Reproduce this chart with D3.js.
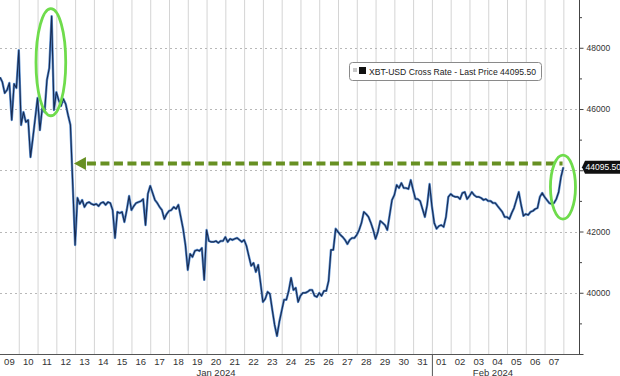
<!DOCTYPE html>
<html><head><meta charset="utf-8">
<script src="https://cdn.jsdelivr.net/npm/d3@7"></script>
<style>body{margin:0;background:#fff}svg{display:block}</style>
</head><body>
<svg id="c" width="620" height="376"></svg>
<script>
// ---- data ----
const startTime = "2024-01-09T00:00:00Z";
const stepHours = 3;
const prices = [
47040,46880,46520,46620,46850,45640,46820,46690,47920,45480,
45900,45575,45640,44430,45050,45700,46360,45310,46030,45900,
46950,47340,49030,45970,46550,46290,46100,46330,46160,45800,
45480,43520,41560,43100,42900,43030,42800,42930,42960,42900,
42870,42900,42830,42930,42960,42870,42960,42930,42700,41790,
42640,42600,42640,42310,42700,43160,42700,42830,42930,42960,
42990,43060,42210,43230,43490,43260,43030,42930,42800,42700,
42410,42570,42670,42700,42800,42740,42870,42480,42090,41560,
40745,41270,41170,41365,41400,41365,41460,40420,42050,41690,
41660,41660,41690,41630,41690,41690,41820,41660,41760,41725,
41760,41790,41725,41660,41725,41530,41200,40880,40975,40680,
40910,40320,39700,39800,40030,39960,39440,38950,38590,39050,
39410,39770,39770,40060,40485,40090,40160,39700,39900,39995,
39995,40030,40090,40090,39900,39865,39995,39900,40060,40060,
40390,41400,41400,42090,41990,41890,41820,41725,41590,41725,
41790,41790,41890,42050,42280,42640,42570,42475,42280,42050,
41760,41990,42345,42280,42210,42050,42540,43030,43190,43520,
43420,43585,43420,43420,43390,43680,43360,43060,43060,42990,
42735,42475,42870,43550,42830,42280,42090,42180,42210,42150,
42475,43130,43225,43160,43130,43130,43060,43260,43290,43060,
43160,43290,43190,43130,43130,43095,43030,43060,42995,42995,
42930,42930,42830,42735,42640,42475,42475,42410,42605,42770,
43030,43290,42870,42510,42570,42540,42640,42670,42735,42770,
43130,43260,43130,43030,42930,42900,42930,43060,43290,43780,
44095.5
];
const lastPrice = 44095.50;
const seriesName = "XBT-USD Cross Rate - Last Price";
const xDomain = ["2024-01-09T00:00:00Z", "2024-02-08T20:00:00Z"];
const yDomain = [38000, 49560];
const gridValues = [40000, 42000, 44000, 46000, 48000];
const majorTicks = [38000, 40000, 42000, 44000, 46000, 48000];
const labelTicks = [40000, 42000, 46000, 48000];
const minorTicks = [39000, 41000, 43000, 45000, 47000, 49000];
const monthLabels = [
  {label: "Jan 2024", at: "2024-01-20T12:00:00Z"},
  {label: "Feb 2024", at: "2024-02-04T06:00:00Z"}
];
const monthStart = "2024-02-01T00:00:00Z";
const arrowLevel = 44220;
const arrowFrom = "2024-02-07T23:00:00Z";
const arrowTo = "2024-01-12T22:30:00Z";
const circles = [
  {t: "2024-01-11T17:00:00Z", v: 47530, hours: 38, dv: 3500},
  {t: "2024-02-07T23:30:00Z", v: 43450, hours: 32, dv: 2090}
];

// ---- chart ----
const W = 620, H = 376;
const plotR = 579, plotB = 354;
const svg = d3.select("#c");
const x = d3.scaleUtc().domain(xDomain.map(d => new Date(d))).range([0, plotR]);
const y = d3.scaleLinear().domain(yDomain).range([plotB, 0]);
const t0 = new Date(startTime);
const data = prices.map((v, i) => ({t: d3.utcHour.offset(t0, i * stepHours), v}));

// vertical day grid
const days = d3.utcDay.range(new Date("2024-01-10T00:00:00Z"), new Date("2024-02-09T00:00:00Z"));
svg.append("g").selectAll("line").data(days).join("line")
  .attr("x1", d => x(d) + 0.5).attr("x2", d => x(d) + 0.5)
  .attr("y1", 0).attr("y2", plotB)
  .attr("stroke", "#d4d4d4").attr("stroke-width", 1);

// horizontal dotted grid
svg.append("g").selectAll("line").data(gridValues).join("line")
  .attr("x1", 0).attr("x2", plotR)
  .attr("y1", d => Math.round(y(d)) + 0.5).attr("y2", d => Math.round(y(d)) + 0.5)
  .attr("stroke", "#b8b8b8").attr("stroke-width", 1).attr("stroke-dasharray", "2,3");

// series
const line = d3.line().x(d => x(d.t)).y(d => y(d.v));
svg.append("path").datum(data).attr("d", line)
  .attr("fill", "none").attr("stroke", "#5d8fcf").attr("stroke-width", 2.4).attr("stroke-linejoin", "round");
svg.append("path").datum(data).attr("d", line)
  .attr("fill", "none").attr("stroke", "#172b52").attr("stroke-width", 1.1).attr("stroke-linejoin", "round");

// dashed arrow annotation
const ay = y(arrowLevel);
const ax0 = x(new Date(arrowTo));
svg.append("line")
  .attr("x1", ax0 + 13).attr("x2", x(new Date(arrowFrom)))
  .attr("y1", ay).attr("y2", ay)
  .attr("stroke", "#679022").attr("stroke-width", 4).attr("stroke-dasharray", "9,4.5");
svg.append("path")
  .attr("d", `M${ax0},${ay} L${ax0 + 12},${ay - 6.5} L${ax0 + 12},${ay + 6.5} Z`)
  .attr("fill", "#679022");

// green ellipses
svg.append("g").selectAll("ellipse").data(circles).join("ellipse")
  .attr("cx", d => x(new Date(d.t))).attr("cy", d => y(d.v))
  .attr("rx", d => x(d3.utcHour.offset(new Date(d.t), d.hours / 2)) - x(new Date(d.t)))
  .attr("ry", d => y(d.v - d.dv / 2) - y(d.v))
  .attr("fill", "none").attr("stroke", "#6fdc4c").attr("stroke-width", 2.8);

// bottom axis line
svg.append("line").attr("x1", 0).attr("x2", plotR + 0.5).attr("y1", plotB + 0.5).attr("y2", plotB + 0.5)
  .attr("stroke", "#555").attr("stroke-width", 1);
// month separator
svg.append("line").attr("x1", x(new Date(monthStart)) + 0.5).attr("x2", x(new Date(monthStart)) + 0.5)
  .attr("y1", plotB).attr("y2", H).attr("stroke", "#555").attr("stroke-width", 1);

// day labels
const labelDays = d3.utcDay.range(new Date("2024-01-09T00:00:00Z"), new Date("2024-02-08T00:00:00Z"));
svg.append("g").selectAll("text").data(labelDays).join("text")
  .attr("x", d => x(d3.utcHour.offset(d, 12))).attr("y", 365)
  .attr("text-anchor", "middle")
  .attr("font-family", "Liberation Sans, Arial, sans-serif").attr("font-size", 9.5).attr("fill", "#333")
  .text(d3.utcFormat("%d"));
svg.append("g").selectAll("text").data(monthLabels).join("text")
  .attr("x", d => x(new Date(d.at))).attr("y", 375.5)
  .attr("text-anchor", "middle")
  .attr("font-family", "Liberation Sans, Arial, sans-serif").attr("font-size", 9.5).attr("fill", "#333")
  .text(d => d.label);

// right axis
const axR = svg.append("g").attr("transform", `translate(${plotR + 0.5},0)`);
axR.call(d3.axisRight(y).tickValues(majorTicks).tickSize(4).tickFormat(d => labelTicks.includes(d) ? d : ""));
const axMinor = svg.append("g").attr("transform", `translate(${plotR + 0.5},0)`);
axMinor.call(d3.axisRight(y).tickValues(minorTicks).tickSize(2.5).tickFormat(""));
[axR, axMinor].forEach(g => {
  g.select(".domain").attr("stroke", "#444").attr("d", `M0,0V${plotB + 0.5}`);
  g.selectAll(".tick line").attr("stroke", "#444");
});
axR.selectAll(".tick text").attr("x", 7)
  .attr("font-family", "Liberation Sans, Arial, sans-serif").attr("font-size", 8.5).attr("fill", "#333");

// last price tag
const ly = y(lastPrice);
svg.append("path")
  .attr("d", `M${plotR + 3},${ly} L${plotR + 6},${ly - 6.5} H${W + 5} V${ly + 6.5} H${plotR + 6} Z`)
  .attr("fill", "#111");
svg.append("text").attr("x", plotR + 6.5).attr("y", ly).attr("dy", "0.35em")
  .attr("font-family", "Liberation Sans, Arial, sans-serif").attr("font-size", 8.5).attr("fill", "#fff")
  .text(d3.format(".2f")(lastPrice));

// legend
const lg = svg.append("g");
lg.append("rect").attr("x", 349.5).attr("y", 62.5).attr("width", 192).attr("height", 18).attr("rx", 3)
  .attr("fill", "#fff").attr("stroke", "#8a8a8a").attr("stroke-width", 1);
lg.append("rect").attr("x", 353).attr("y", 68).attr("width", 4).attr("height", 4).attr("fill", "#c8c8c8");
lg.append("rect").attr("x", 359).attr("y", 67).attr("width", 7).attr("height", 7).attr("fill", "#111");
lg.append("text").attr("x", 369).attr("y", 74.5)
  .attr("font-family", "Liberation Sans, Arial, sans-serif").attr("font-size", 9).attr("fill", "#222")
  .attr("textLength", 167).attr("lengthAdjust", "spacingAndGlyphs")
  .text(`${seriesName} ${d3.format(".2f")(lastPrice)}`);
</script>
</body></html>
